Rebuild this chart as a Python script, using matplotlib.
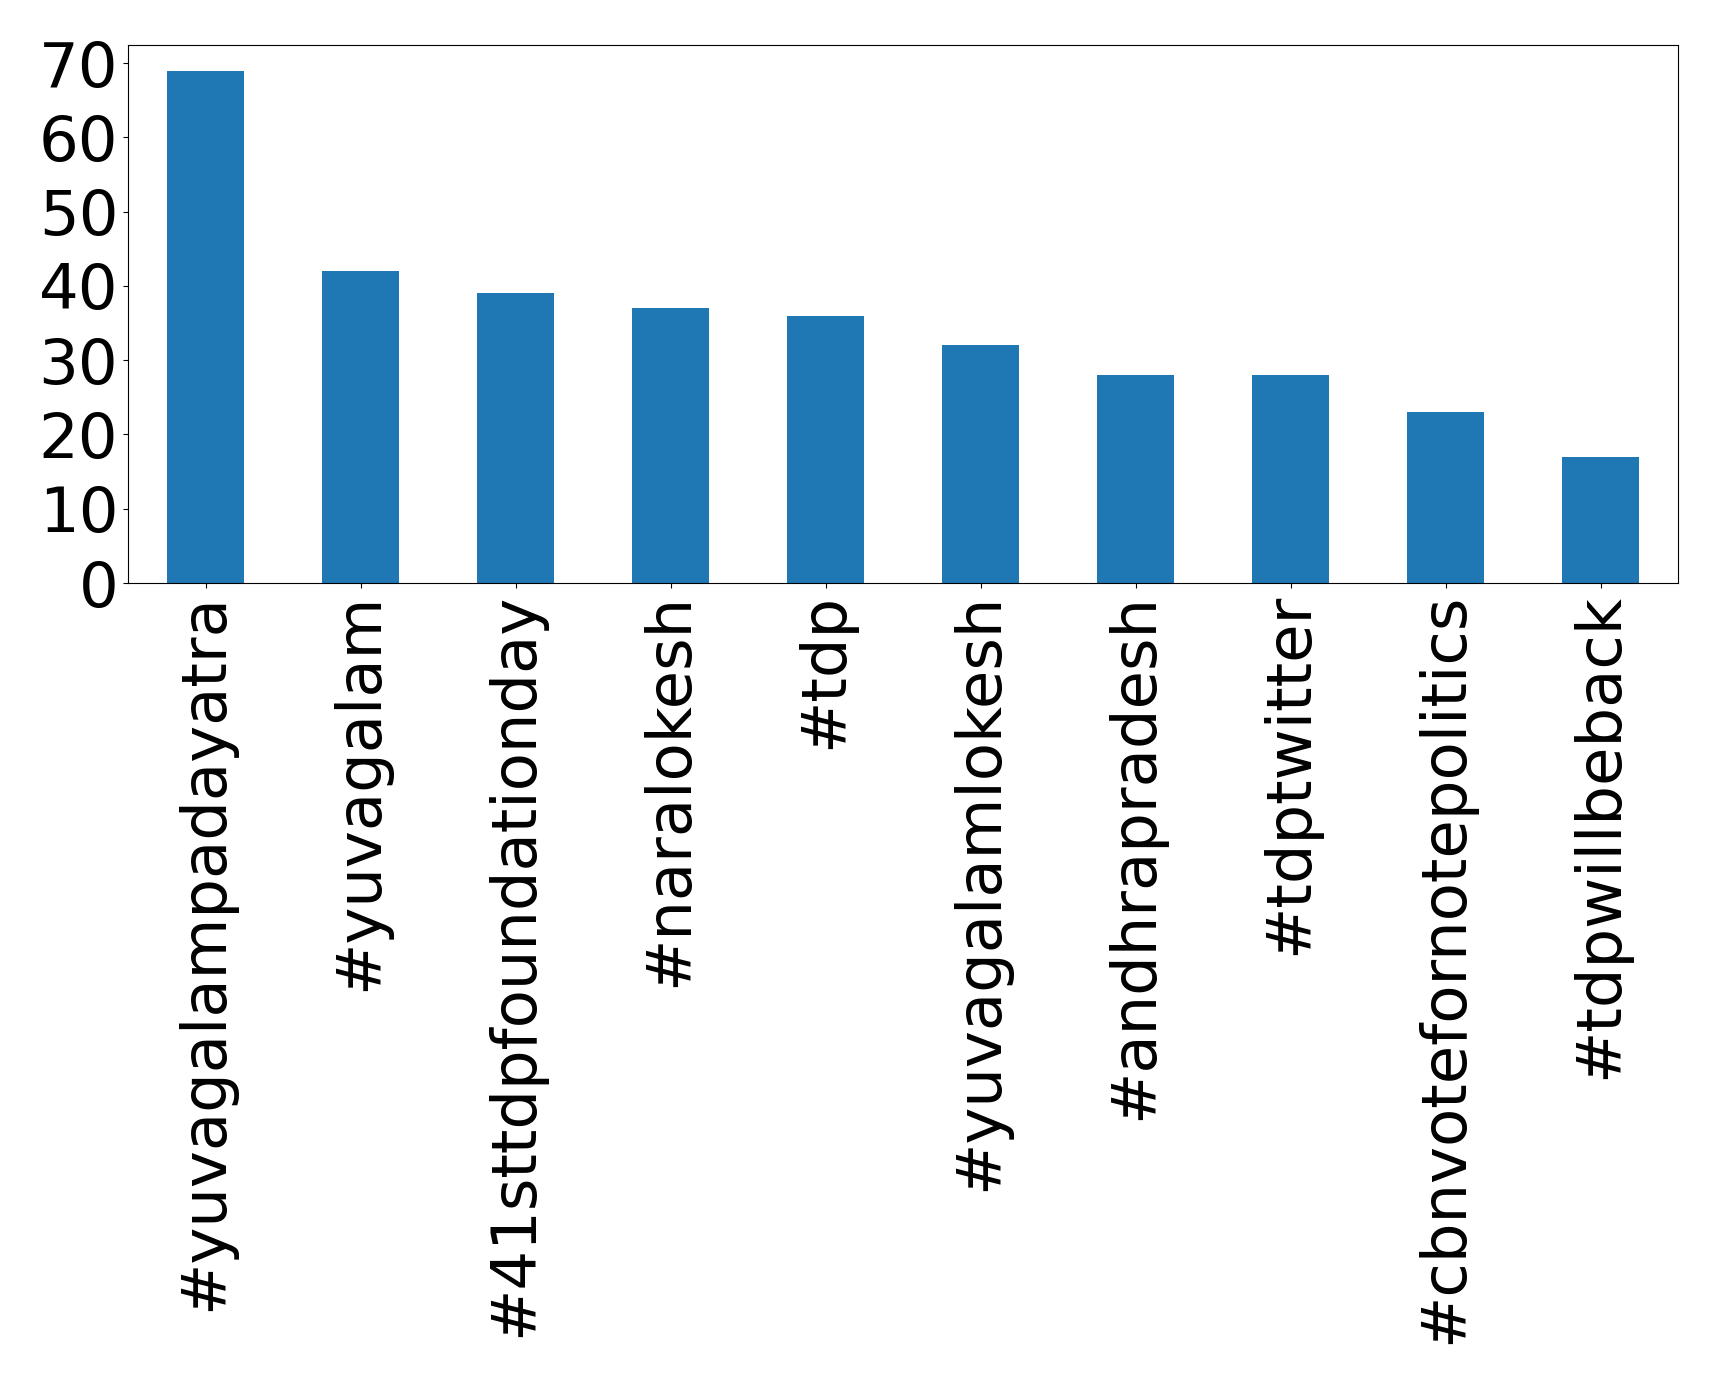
import matplotlib
matplotlib.use("Agg")
import matplotlib.pyplot as plt

hashtags = ["#yuvagalampadayatra", "#yuvagalam", "#41sttdpfoundationday", "#naralokesh",
            "#tdp", "#yuvagalamlokesh", "#andhrapradesh", "#tdptwitter",
            "#cbnvotefornotepolitics", "#tdpwillbeback"]
counts = [69, 42, 39, 37, 36, 32, 28, 28, 23, 17]

fig = plt.figure(figsize=(17.19, 13.85), dpi=100)
ax = fig.add_axes([128/1719, 1 - 583/1385, (1678-128)/1719, (583-45)/1385])
x = list(range(len(hashtags)))
ax.bar(x, counts, width=0.5, color="#1f77b4")
ax.set_xlim(-0.5, len(hashtags) - 0.5)
ax.set_ylim(0, max(counts) * 1.05)
ax.set_xticks(x)
ax.set_xticklabels(hashtags, rotation=90, fontsize=45)
ax.set_yticks(range(0, 71, 10))
ax.tick_params(axis="y", labelsize=45)
fig.savefig("out.png", dpi=100)
